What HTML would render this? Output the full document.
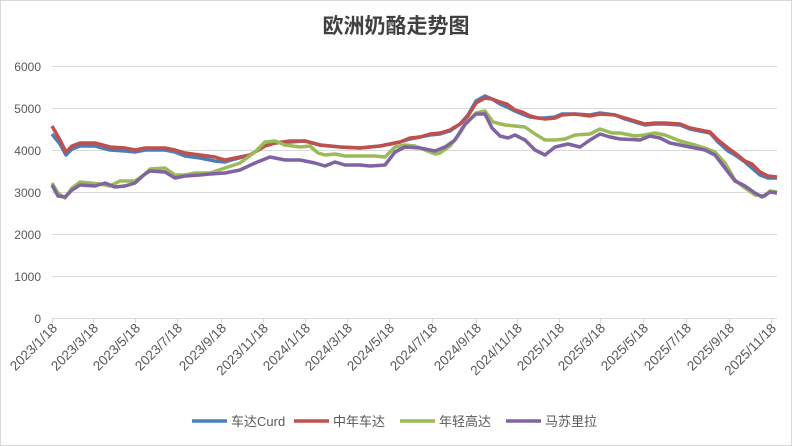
<!DOCTYPE html><html><head><meta charset="utf-8"><style>body{margin:0;background:#fff}svg{display:block}text{font-family:"Liberation Sans","Noto Sans CJK SC",sans-serif;fill:#595959}</style></head><body>
<svg width="792" height="446" viewBox="0 0 792 446">
<rect x="0.5" y="0.5" width="791" height="445" fill="#fff" stroke="#d9d9d9"/>
<text x="396" y="33" text-anchor="middle" font-size="21" font-weight="bold" style="fill:#404040">欧洲奶酪走势图</text>
<g stroke="#d9d9d9" stroke-width="1">
<line x1="52" y1="66.5" x2="777" y2="66.5"/><line x1="52" y1="108.5" x2="777" y2="108.5"/><line x1="52" y1="150.5" x2="777" y2="150.5"/><line x1="52" y1="192.5" x2="777" y2="192.5"/><line x1="52" y1="234.5" x2="777" y2="234.5"/><line x1="52" y1="276.5" x2="777" y2="276.5"/><line x1="52" y1="318.5" x2="777" y2="318.5"/>
<path d="M52.5 318v5M93.5 318v5M135.5 318v5M177.5 318v5M221.5 318v5M263.5 318v5M305.5 318v5M347.5 318v5M389.5 318v5M432.5 318v5M476.5 318v5M517.5 318v5M559.5 318v5M600.5 318v5M643.5 318v5M686.5 318v5M729.5 318v5M771.5 318v5"/>
</g>
<g font-size="12" text-anchor="end">
<text x="41" y="71">6000</text><text x="41" y="113">5000</text><text x="41" y="155">4000</text><text x="41" y="197">3000</text><text x="41" y="239">2000</text><text x="41" y="281">1000</text><text x="41" y="323">0</text>
</g>
<g font-size="13.5" text-anchor="end">
<text transform="translate(58,329) rotate(-45)">2023/1/18</text>
<text transform="translate(99,329) rotate(-45)">2023/3/18</text>
<text transform="translate(141,329) rotate(-45)">2023/5/18</text>
<text transform="translate(183,329) rotate(-45)">2023/7/18</text>
<text transform="translate(227,329) rotate(-45)">2023/9/18</text>
<text transform="translate(269,329) rotate(-45)">2023/11/18</text>
<text transform="translate(311,329) rotate(-45)">2024/1/18</text>
<text transform="translate(353,329) rotate(-45)">2024/3/18</text>
<text transform="translate(395,329) rotate(-45)">2024/5/18</text>
<text transform="translate(438,329) rotate(-45)">2024/7/18</text>
<text transform="translate(482,329) rotate(-45)">2024/9/18</text>
<text transform="translate(523,329) rotate(-45)">2024/11/18</text>
<text transform="translate(565,329) rotate(-45)">2025/1/18</text>
<text transform="translate(606,329) rotate(-45)">2025/3/18</text>
<text transform="translate(649,329) rotate(-45)">2025/5/18</text>
<text transform="translate(692,329) rotate(-45)">2025/7/18</text>
<text transform="translate(735,329) rotate(-45)">2025/9/18</text>
<text transform="translate(777,329) rotate(-45)">2025/11/18</text>
</g>
<g fill="none" stroke-width="3.5" stroke-linejoin="round">
<polyline stroke="#4a7ebb" points="52,134 60,144 66,155 72,149 80,146 95,146 110,150 125,151 135,152 145,150 165,150 175,152 185,156 200,158 215,161 225,162 235,159 250,155 265,146 275,143 290,142 305,141 320,145 340,147 360,148 380,146 400,142 410,139 420,137 430,135 440,134 450,131 460,124 468,115 476,101 485,96 492,99 500,104 507,107 515,111 522,114 530,117 538,118 545,118 555,117 562,114 575,114 590,115 600,113 615,115 625,119 635,122 645,125 655,124 665,124 680,125 690,129 700,131 710,133 718,142 728,151 735,155 745,162 752,168 760,175 768,178 777,178"/>
<polyline stroke="#c0504d" points="52,126 60,140 66,152 72,146 80,143 95,143 110,147 125,148 135,150 145,148 165,148 175,150 185,153 200,155 215,157 225,160 235,158 250,155 265,146 275,143 290,141 305,141 320,145 340,147 360,148 380,146 400,142 410,138 420,137 430,134 440,133 450,130 460,124 468,116 476,103 485,98 492,99 500,102 507,104 515,110 522,112 530,116 538,118 545,119 555,118 562,115 575,114 590,116 600,114 615,115 625,118 635,121 645,124 655,123 665,123 680,124 690,128 700,130 710,132 718,140 728,148 735,153 745,161 752,164 760,172 768,176 777,177"/>
<polyline stroke="#9bbb59" points="52,183 58,193 65,198 72,188 80,182 90,183 100,184 110,186 120,181 135,181 145,174 150,169 165,168 175,175 185,175 195,173 210,173 225,168 240,163 255,152 265,142 275,141 285,145 300,147 310,146 318,153 325,155 335,154 345,156 360,156 375,156 385,157 395,147 405,145 415,146 425,150 435,154 440,153 450,146 460,133 465,125 476,113 485,111 493,122 505,125 515,126 525,127 535,134 545,140 555,140 565,139 575,135 590,134 600,129 612,133 620,133 635,136 645,135 655,133 665,135 680,141 695,145 705,148 715,152 725,163 735,180 745,188 755,195 765,196 770,191 777,192"/>
<polyline stroke="#8064a2" points="52,185 58,196 65,197 72,190 80,185 95,186 105,183 115,187 125,186 135,183 145,174 150,171 165,172 175,178 185,176 200,175 210,174 225,173 240,170 255,163 270,157 285,160 300,160 315,163 325,166 335,162 345,165 360,165 370,166 385,165 395,152 405,147 420,148 435,151 445,147 455,140 465,124 476,114 485,114 492,128 500,136 508,138 515,135 525,140 535,150 545,155 555,147 568,144 580,147 590,140 600,134 610,137 620,139 640,140 650,136 660,138 670,143 685,146 695,148 705,150 715,155 725,168 735,181 745,186 755,193 762,197 770,192 777,193"/>
</g>
<g font-size="13" stroke-width="3.5">
<line x1="192" y1="421" x2="227" y2="421" stroke="#4a7ebb"/><text x="231" y="426">车达Curd</text>
<line x1="294" y1="421" x2="329" y2="421" stroke="#c0504d"/><text x="333" y="426">中年车达</text>
<line x1="400" y1="421" x2="435" y2="421" stroke="#9bbb59"/><text x="439" y="426">年轻高达</text>
<line x1="506" y1="421" x2="541" y2="421" stroke="#8064a2"/><text x="545" y="426">马苏里拉</text>
</g>
</svg></body></html>
